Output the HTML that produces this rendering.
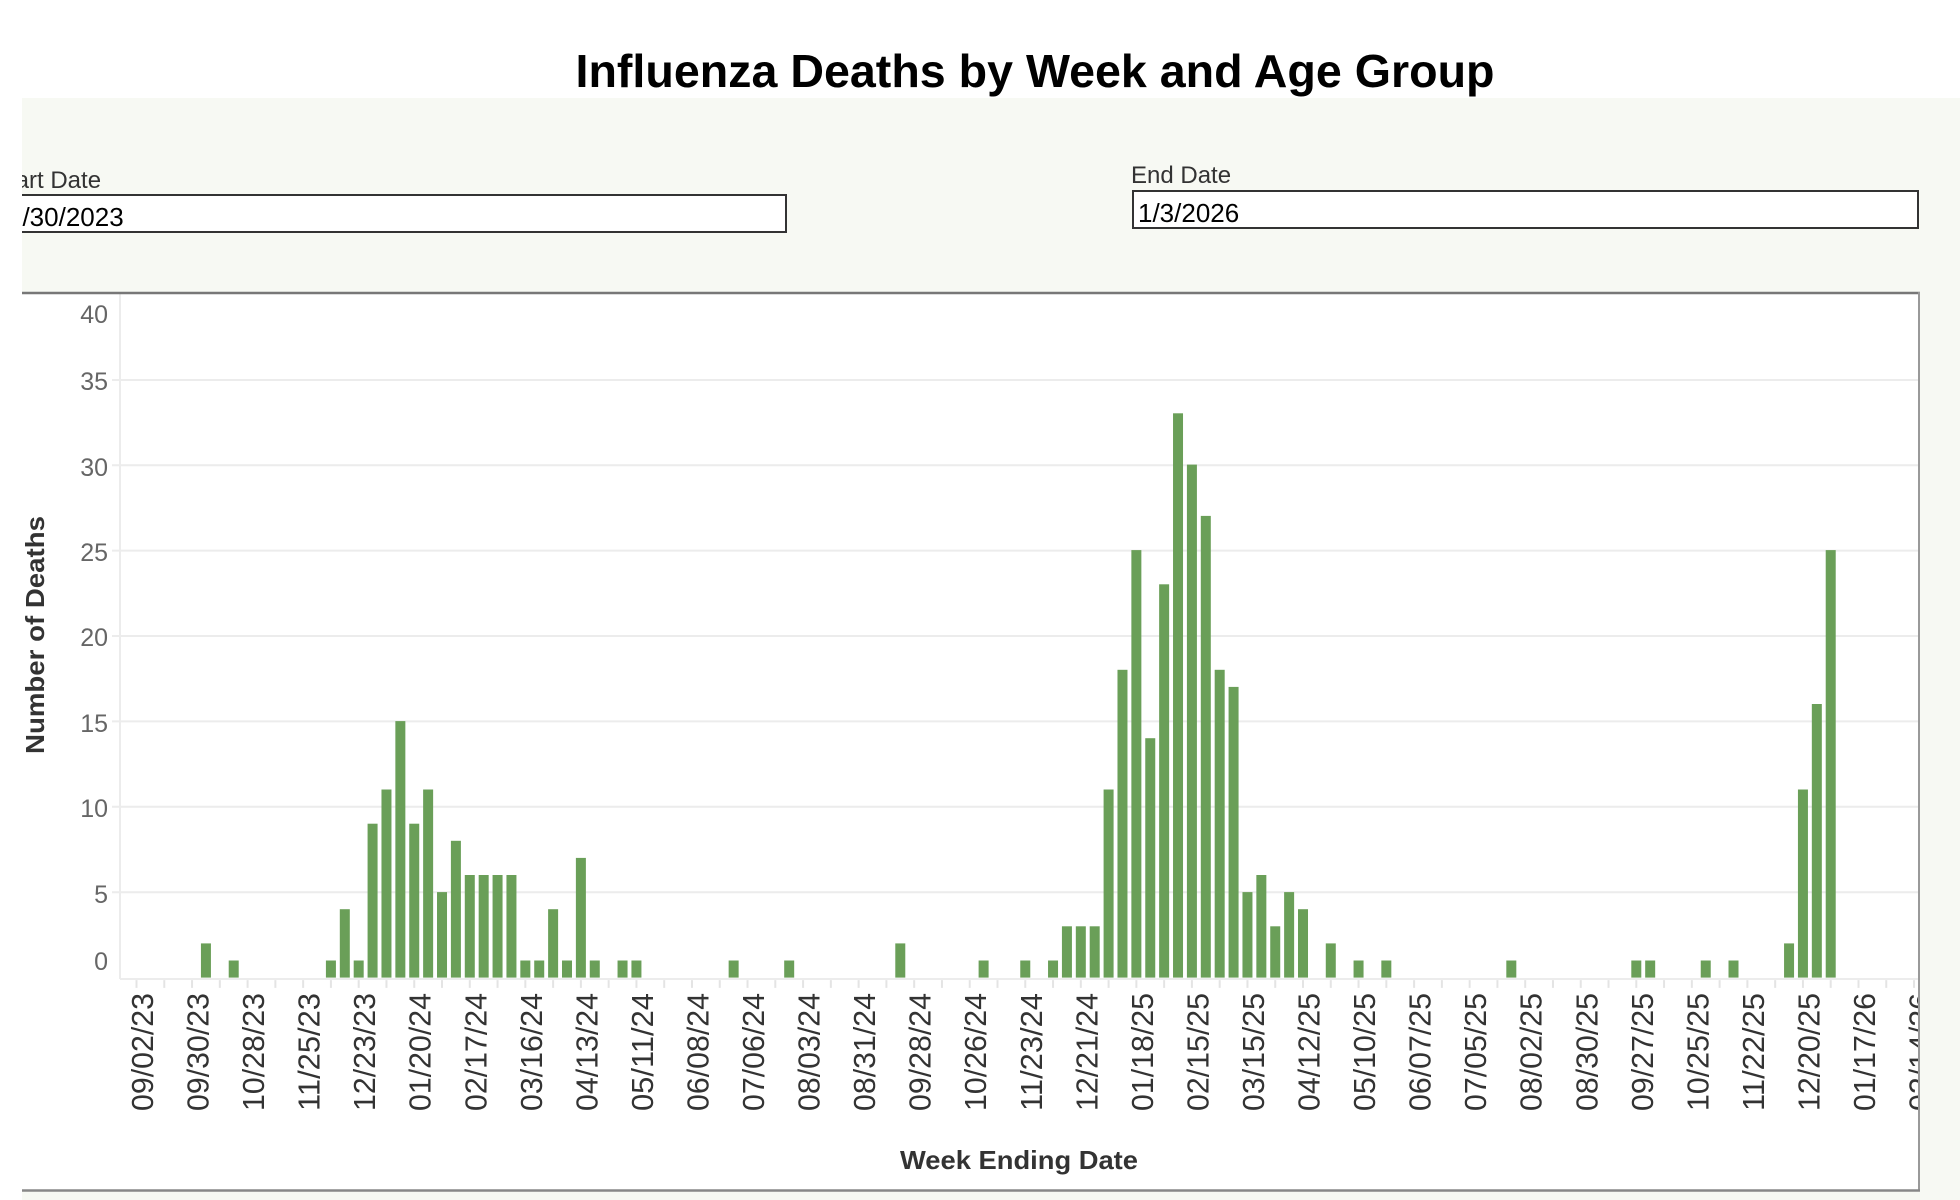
<!DOCTYPE html>
<html><head><meta charset="utf-8"><style>
html,body{margin:0;padding:0;background:#fff;}
svg{display:block;}
text{font-family:"Liberation Sans",sans-serif;}
</style></head><body>
<svg width="1960" height="1200" viewBox="0 0 1960 1200" xmlns="http://www.w3.org/2000/svg">
<defs>
<clipPath id="cb"><rect x="22" y="292" width="1897" height="900"/></clipPath>
<clipPath id="c1"><rect x="22" y="150" width="770" height="90"/></clipPath>
</defs>
<rect x="0" y="0" width="1960" height="1200" fill="#fff"/>
<rect x="22" y="98" width="1938" height="1102" fill="#f7f9f3"/>
<text x="1035" y="87" text-anchor="middle" font-size="46" font-weight="bold" fill="#000" textLength="919" lengthAdjust="spacingAndGlyphs">Influenza Deaths by Week and Age Group</text>
<g clip-path="url(#c1)">
<text x="-7" y="188" font-size="24" fill="#333">Start Date</text>
<rect x="14" y="195" width="772" height="37" fill="#fff" stroke="#333" stroke-width="2"/>
<text x="8" y="226" font-size="26" fill="#000">9/30/2023</text>
</g>
<text x="1131" y="183" font-size="24" fill="#333">End Date</text>
<rect x="1133" y="191" width="785" height="37" fill="#fff" stroke="#333" stroke-width="2"/>
<text x="1138" y="222" font-size="26" fill="#000">1/3/2026</text>
<rect x="22" y="292" width="1897" height="898" fill="#fff"/>
<g clip-path="url(#cb)">
<g stroke="#ececec" stroke-width="2">
<line x1="112" y1="380" x2="1919" y2="380"/>
<line x1="112" y1="465.2" x2="1919" y2="465.2"/>
<line x1="112" y1="550.6" x2="1919" y2="550.6"/>
<line x1="112" y1="636" x2="1919" y2="636"/>
<line x1="112" y1="721.4" x2="1919" y2="721.4"/>
<line x1="112" y1="806.8" x2="1919" y2="806.8"/>
<line x1="112" y1="892.2" x2="1919" y2="892.2"/>
<line x1="120" y1="979" x2="1919" y2="979"/>
<line x1="120" y1="294" x2="120" y2="979"/>
</g>
<g font-size="25" fill="#666" text-anchor="end">
<text x="108" y="323">40</text>
<text x="108" y="390">35</text>
<text x="108" y="476">30</text>
<text x="108" y="561">25</text>
<text x="108" y="646">20</text>
<text x="108" y="732">15</text>
<text x="108" y="817">10</text>
<text x="108" y="903">5</text>
<text x="108" y="970">0</text>
</g>
<g transform="translate(136.5 977.6) scale(13.887 -17.1)" fill="#6a9f58">
<path fill="none" stroke="#e4e4e4" stroke-width="2" vector-effect="non-scaling-stroke" d="M0 -0.15V-0.6M2 -0.15V-0.6M4 -0.15V-0.6M6 -0.15V-0.6M8 -0.15V-0.6M10 -0.15V-0.6M12 -0.15V-0.6M14 -0.15V-0.6M16 -0.15V-0.6M18 -0.15V-0.6M20 -0.15V-0.6M22 -0.15V-0.6M24 -0.15V-0.6M26 -0.15V-0.6M28 -0.15V-0.6M30 -0.15V-0.6M32 -0.15V-0.6M34 -0.15V-0.6M36 -0.15V-0.6M38 -0.15V-0.6M40 -0.15V-0.6M42 -0.15V-0.6M44 -0.15V-0.6M46 -0.15V-0.6M48 -0.15V-0.6M50 -0.15V-0.6M52 -0.15V-0.6M54 -0.15V-0.6M56 -0.15V-0.6M58 -0.15V-0.6M60 -0.15V-0.6M62 -0.15V-0.6M64 -0.15V-0.6M66 -0.15V-0.6M68 -0.15V-0.6M70 -0.15V-0.6M72 -0.15V-0.6M74 -0.15V-0.6M76 -0.15V-0.6M78 -0.15V-0.6M80 -0.15V-0.6M82 -0.15V-0.6M84 -0.15V-0.6M86 -0.15V-0.6M88 -0.15V-0.6M90 -0.15V-0.6M92 -0.15V-0.6M94 -0.15V-0.6M96 -0.15V-0.6M98 -0.15V-0.6M100 -0.15V-0.6M102 -0.15V-0.6M104 -0.15V-0.6M106 -0.15V-0.6M108 -0.15V-0.6M110 -0.15V-0.6M112 -0.15V-0.6M114 -0.15V-0.6M116 -0.15V-0.6M118 -0.15V-0.6M120 -0.15V-0.6M122 -0.15V-0.6M124 -0.15V-0.6M126 -0.15V-0.6M128 -0.15V-0.6"/>
<rect x="4.64" y="0" width="0.72" height="2"/>
<rect x="6.64" y="0" width="0.72" height="1"/>
<rect x="13.64" y="0" width="0.72" height="1"/>
<rect x="14.64" y="0" width="0.72" height="4"/>
<rect x="15.64" y="0" width="0.72" height="1"/>
<rect x="16.64" y="0" width="0.72" height="9"/>
<rect x="17.64" y="0" width="0.72" height="11"/>
<rect x="18.64" y="0" width="0.72" height="15"/>
<rect x="19.64" y="0" width="0.72" height="9"/>
<rect x="20.64" y="0" width="0.72" height="11"/>
<rect x="21.64" y="0" width="0.72" height="5"/>
<rect x="22.64" y="0" width="0.72" height="8"/>
<rect x="23.64" y="0" width="0.72" height="6"/>
<rect x="24.64" y="0" width="0.72" height="6"/>
<rect x="25.64" y="0" width="0.72" height="6"/>
<rect x="26.64" y="0" width="0.72" height="6"/>
<rect x="27.64" y="0" width="0.72" height="1"/>
<rect x="28.64" y="0" width="0.72" height="1"/>
<rect x="29.64" y="0" width="0.72" height="4"/>
<rect x="30.64" y="0" width="0.72" height="1"/>
<rect x="31.64" y="0" width="0.72" height="7"/>
<rect x="32.64" y="0" width="0.72" height="1"/>
<rect x="34.64" y="0" width="0.72" height="1"/>
<rect x="35.64" y="0" width="0.72" height="1"/>
<rect x="42.64" y="0" width="0.72" height="1"/>
<rect x="46.64" y="0" width="0.72" height="1"/>
<rect x="54.64" y="0" width="0.72" height="2"/>
<rect x="60.64" y="0" width="0.72" height="1"/>
<rect x="63.64" y="0" width="0.72" height="1"/>
<rect x="65.64" y="0" width="0.72" height="1"/>
<rect x="66.64" y="0" width="0.72" height="3"/>
<rect x="67.64" y="0" width="0.72" height="3"/>
<rect x="68.64" y="0" width="0.72" height="3"/>
<rect x="69.64" y="0" width="0.72" height="11"/>
<rect x="70.64" y="0" width="0.72" height="18"/>
<rect x="71.64" y="0" width="0.72" height="25"/>
<rect x="72.64" y="0" width="0.72" height="14"/>
<rect x="73.64" y="0" width="0.72" height="23"/>
<rect x="74.64" y="0" width="0.72" height="33"/>
<rect x="75.64" y="0" width="0.72" height="30"/>
<rect x="76.64" y="0" width="0.72" height="27"/>
<rect x="77.64" y="0" width="0.72" height="18"/>
<rect x="78.64" y="0" width="0.72" height="17"/>
<rect x="79.64" y="0" width="0.72" height="5"/>
<rect x="80.64" y="0" width="0.72" height="6"/>
<rect x="81.64" y="0" width="0.72" height="3"/>
<rect x="82.64" y="0" width="0.72" height="5"/>
<rect x="83.64" y="0" width="0.72" height="4"/>
<rect x="85.64" y="0" width="0.72" height="2"/>
<rect x="87.64" y="0" width="0.72" height="1"/>
<rect x="89.64" y="0" width="0.72" height="1"/>
<rect x="98.64" y="0" width="0.72" height="1"/>
<rect x="107.64" y="0" width="0.72" height="1"/>
<rect x="108.64" y="0" width="0.72" height="1"/>
<rect x="112.64" y="0" width="0.72" height="1"/>
<rect x="114.64" y="0" width="0.72" height="1"/>
<rect x="118.64" y="0" width="0.72" height="2"/>
<rect x="119.64" y="0" width="0.72" height="11"/>
<rect x="120.64" y="0" width="0.72" height="16"/>
<rect x="121.64" y="0" width="0.72" height="25"/>
</g>
<g font-size="31" fill="#333" text-anchor="end">
<text transform="translate(153 993) rotate(-90)" textLength="118" lengthAdjust="spacingAndGlyphs">09/02/23</text>
<text transform="translate(208.5 993) rotate(-90)" textLength="118" lengthAdjust="spacingAndGlyphs">09/30/23</text>
<text transform="translate(264.1 993) rotate(-90)" textLength="118" lengthAdjust="spacingAndGlyphs">10/28/23</text>
<text transform="translate(319.6 993) rotate(-90)" textLength="118" lengthAdjust="spacingAndGlyphs">11/25/23</text>
<text transform="translate(375.2 993) rotate(-90)" textLength="118" lengthAdjust="spacingAndGlyphs">12/23/23</text>
<text transform="translate(430.7 993) rotate(-90)" textLength="118" lengthAdjust="spacingAndGlyphs">01/20/24</text>
<text transform="translate(486.3 993) rotate(-90)" textLength="118" lengthAdjust="spacingAndGlyphs">02/17/24</text>
<text transform="translate(541.8 993) rotate(-90)" textLength="118" lengthAdjust="spacingAndGlyphs">03/16/24</text>
<text transform="translate(597.4 993) rotate(-90)" textLength="118" lengthAdjust="spacingAndGlyphs">04/13/24</text>
<text transform="translate(652.9 993) rotate(-90)" textLength="118" lengthAdjust="spacingAndGlyphs">05/11/24</text>
<text transform="translate(708.5 993) rotate(-90)" textLength="118" lengthAdjust="spacingAndGlyphs">06/08/24</text>
<text transform="translate(764 993) rotate(-90)" textLength="118" lengthAdjust="spacingAndGlyphs">07/06/24</text>
<text transform="translate(819.6 993) rotate(-90)" textLength="118" lengthAdjust="spacingAndGlyphs">08/03/24</text>
<text transform="translate(875.1 993) rotate(-90)" textLength="118" lengthAdjust="spacingAndGlyphs">08/31/24</text>
<text transform="translate(930.7 993) rotate(-90)" textLength="118" lengthAdjust="spacingAndGlyphs">09/28/24</text>
<text transform="translate(986.2 993) rotate(-90)" textLength="118" lengthAdjust="spacingAndGlyphs">10/26/24</text>
<text transform="translate(1041.8 993) rotate(-90)" textLength="118" lengthAdjust="spacingAndGlyphs">11/23/24</text>
<text transform="translate(1097.3 993) rotate(-90)" textLength="118" lengthAdjust="spacingAndGlyphs">12/21/24</text>
<text transform="translate(1152.9 993) rotate(-90)" textLength="118" lengthAdjust="spacingAndGlyphs">01/18/25</text>
<text transform="translate(1208.4 993) rotate(-90)" textLength="118" lengthAdjust="spacingAndGlyphs">02/15/25</text>
<text transform="translate(1264 993) rotate(-90)" textLength="118" lengthAdjust="spacingAndGlyphs">03/15/25</text>
<text transform="translate(1319.5 993) rotate(-90)" textLength="118" lengthAdjust="spacingAndGlyphs">04/12/25</text>
<text transform="translate(1375.1 993) rotate(-90)" textLength="118" lengthAdjust="spacingAndGlyphs">05/10/25</text>
<text transform="translate(1430.6 993) rotate(-90)" textLength="118" lengthAdjust="spacingAndGlyphs">06/07/25</text>
<text transform="translate(1486.2 993) rotate(-90)" textLength="118" lengthAdjust="spacingAndGlyphs">07/05/25</text>
<text transform="translate(1541.7 993) rotate(-90)" textLength="118" lengthAdjust="spacingAndGlyphs">08/02/25</text>
<text transform="translate(1597.3 993) rotate(-90)" textLength="118" lengthAdjust="spacingAndGlyphs">08/30/25</text>
<text transform="translate(1652.8 993) rotate(-90)" textLength="118" lengthAdjust="spacingAndGlyphs">09/27/25</text>
<text transform="translate(1708.3 993) rotate(-90)" textLength="118" lengthAdjust="spacingAndGlyphs">10/25/25</text>
<text transform="translate(1763.9 993) rotate(-90)" textLength="118" lengthAdjust="spacingAndGlyphs">11/22/25</text>
<text transform="translate(1819.4 993) rotate(-90)" textLength="118" lengthAdjust="spacingAndGlyphs">12/20/25</text>
<text transform="translate(1875 993) rotate(-90)" textLength="118" lengthAdjust="spacingAndGlyphs">01/17/26</text>
<text transform="translate(1930.5 993) rotate(-90)" textLength="118" lengthAdjust="spacingAndGlyphs">02/14/26</text>
</g>
<text transform="translate(44 635) rotate(-90)" text-anchor="middle" font-size="26" font-weight="bold" fill="#333" textLength="238" lengthAdjust="spacingAndGlyphs">Number of Deaths</text>
<text x="1019" y="1169" text-anchor="middle" font-size="26" font-weight="bold" fill="#333" textLength="238" lengthAdjust="spacingAndGlyphs">Week Ending Date</text>
</g>
<line x1="22" y1="293" x2="1920" y2="293" stroke="#777" stroke-width="2.5"/>
<line x1="1919" y1="292" x2="1919" y2="1191" stroke="#999" stroke-width="2"/>
<line x1="22" y1="1190.5" x2="1920" y2="1190.5" stroke="#888" stroke-width="2.5"/>
</svg>
</body></html>
